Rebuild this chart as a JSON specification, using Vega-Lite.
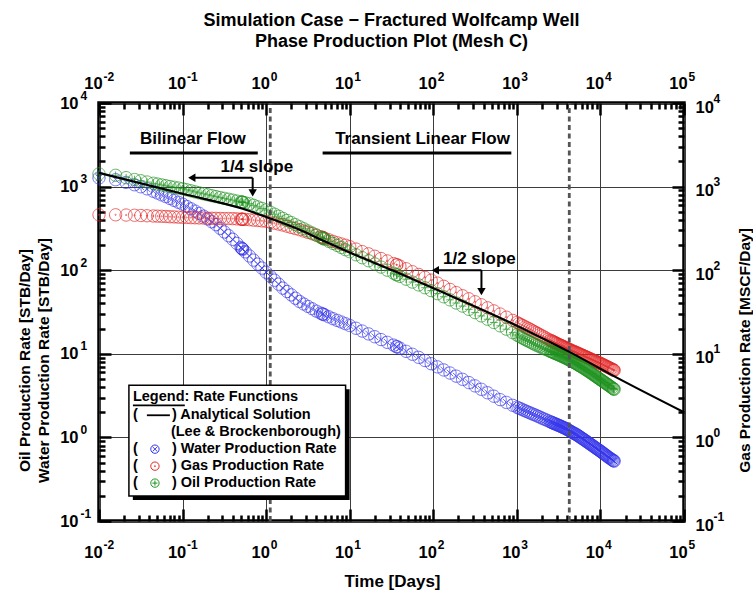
{
  "$schema": "https://vega.github.io/schema/vega-lite/v6.json",
  "width": 585,
  "height": 418,
  "autosize": {"type": "none"},
  "padding": {"left": 99, "top": 103, "right": 69, "bottom": 71},
  "background": "white",
  "view": {"stroke": "black", "strokeWidth": 3.5, "fill": "white"},
  "title": {
    "text": ["Simulation Case − Fractured Wolfcamp Well", "Phase Production Plot (Mesh C)"],
    "font": "Liberation Sans", "fontWeight": "bold", "fontSize": 18, "color": "black",
    "anchor": "middle", "frame": "group", "lineHeight": 21, "offset": 19
  },
  "datasets": {
    "analytic": [
      {"t": 0.01, "q": 1462}, {"t": 0.1, "q": 820}, {"t": 0.525, "q": 543}, {"t": 1.167, "q": 410},
      {"t": 2.51, "q": 305}, {"t": 5, "q": 222}, {"t": 10, "q": 163}, {"t": 36.3, "q": 95},
      {"t": 90.2, "q": 63.7}, {"t": 617, "q": 27.2}, {"t": 1549, "q": 17.5}, {"t": 4365, "q": 10.4},
      {"t": 15490, "q": 5.22}, {"t": 100000, "q": 2.0}
    ],
    "regimes": [{"t": 1.12}, {"t": 4240}],
    "bars": [
      {"t": 0.0234, "t2": 0.794, "q": 2530},
      {"t": 4.74, "t2": 859, "q": 2530}
    ],
    "shafts": [
      {"t": 0.129, "t2": 0.69, "q": 1274, "q2": 1274},
      {"t": 0.69, "t2": 0.69, "q": 1274, "q2": 843},
      {"t": 106, "t2": 377, "q": 100, "q2": 100},
      {"t": 377, "t2": 377, "q": 100, "q2": 55.6}
    ],
    "headsLeft": [{"t": 0.129, "q": 1274}, {"t": 106, "q": 100}],
    "headsDown": [{"t": 0.69, "q": 843}, {"t": 377, "q": 55.6}],
    "notes": [
      {"t": 0.1327, "q": 3715, "label": "Bilinear Flow"},
      {"t": 74.3, "q": 3715, "label": "Transient Linear Flow"},
      {"t": 0.773, "q": 1722, "label": "1/4 slope"},
      {"t": 356, "q": 137, "label": "1/2 slope"}
    ],
    "legendShadow": [{"t": 0.0254, "t2": 9.97, "q": 0.178, "q2": 3.76}],
    "legendBox": [{"t": 0.0228, "t2": 8.93, "q": 0.1986, "q2": 4.2}],
    "legendRules": [
      {"t": 0.02547, "t2": 0.1064, "q": 2.42},
      {"t": 0.0374, "t2": 0.0705, "q": 1.84}
    ],
    "legendText": [
      {"t": 0.02547, "q": 3.02, "label": "Legend: Rate Functions"},
      {"t": 0.02547, "q": 1.84, "label": "("},
      {"t": 0.0745, "q": 1.84, "label": ") Analytical Solution"},
      {"t": 0.0725, "q": 1.153, "label": "(Lee & Brockenborough)"},
      {"t": 0.02547, "q": 0.723, "label": "("},
      {"t": 0.0745, "q": 0.723, "label": ") Water Production Rate"},
      {"t": 0.02547, "q": 0.453, "label": "("},
      {"t": 0.0745, "q": 0.453, "label": ") Gas Production Rate"},
      {"t": 0.02547, "q": 0.284, "label": "("},
      {"t": 0.0745, "q": 0.284, "label": ") Oil Production Rate"}
    ],
    "legendSymbols": [
      {"t": 0.0467, "q": 0.723, "phase": "Water"},
      {"t": 0.0467, "q": 0.453, "phase": "Gas"},
      {"t": 0.0467, "q": 0.284, "phase": "Oil"}
    ]
  },
  "data": {
    "values": [
      {"t": 0.01, "Water": 1270, "Gas": 460, "Oil": 1420},
      {"t": 0.0158, "Water": 1210, "Gas": 460, "Oil": 1365},
      {"t": 0.0211, "Water": 1122, "Gas": 457, "Oil": 1279},
      {"t": 0.0266, "Water": 1052, "Gas": 454, "Oil": 1216},
      {"t": 0.0316, "Water": 995, "Gas": 451, "Oil": 1175},
      {"t": 0.0376, "Water": 940, "Gas": 448, "Oil": 1135},
      {"t": 0.0447, "Water": 879, "Gas": 445, "Oil": 1096},
      {"t": 0.0501, "Water": 837, "Gas": 443, "Oil": 1072},
      {"t": 0.0562, "Water": 796, "Gas": 441, "Oil": 1047},
      {"t": 0.0631, "Water": 759, "Gas": 439, "Oil": 1023},
      {"t": 0.0708, "Water": 720, "Gas": 436, "Oil": 1002},
      {"t": 0.0794, "Water": 684, "Gas": 434, "Oil": 982},
      {"t": 0.0891, "Water": 649, "Gas": 431, "Oil": 962},
      {"t": 0.1, "Water": 617, "Gas": 429, "Oil": 942},
      {"t": 0.112, "Water": 579, "Gas": 427, "Oil": 916},
      {"t": 0.126, "Water": 543, "Gas": 425, "Oil": 890},
      {"t": 0.141, "Water": 510, "Gas": 424, "Oil": 865},
      {"t": 0.158, "Water": 479, "Gas": 422, "Oil": 841},
      {"t": 0.178, "Water": 443, "Gas": 421, "Oil": 820},
      {"t": 0.2, "Water": 410, "Gas": 419, "Oil": 799},
      {"t": 0.224, "Water": 379, "Gas": 418, "Oil": 778},
      {"t": 0.251, "Water": 351, "Gas": 417, "Oil": 759},
      {"t": 0.282, "Water": 317, "Gas": 416, "Oil": 740},
      {"t": 0.316, "Water": 287, "Gas": 415, "Oil": 723},
      {"t": 0.355, "Water": 259, "Gas": 415, "Oil": 706},
      {"t": 0.398, "Water": 234, "Gas": 414, "Oil": 689},
      {"t": 0.447, "Water": 209, "Gas": 411, "Oil": 671},
      {"t": 0.501, "Water": 186, "Gas": 408, "Oil": 655},
      {"t": 0.513, "Water": 182, "Gas": 407, "Oil": 652},
      {"t": 0.519, "Water": 180, "Gas": 407, "Oil": 650},
      {"t": 0.525, "Water": 178, "Gas": 406, "Oil": 649},
      {"t": 0.562, "Water": 166, "Gas": 405, "Oil": 640},
      {"t": 0.631, "Water": 148, "Gas": 402, "Oil": 624},
      {"t": 0.708, "Water": 132, "Gas": 397, "Oil": 597},
      {"t": 0.794, "Water": 118, "Gas": 393, "Oil": 572},
      {"t": 0.891, "Water": 106, "Gas": 389, "Oil": 548},
      {"t": 1, "Water": 94.4, "Gas": 385, "Oil": 525},
      {"t": 1.122, "Water": 84.6, "Gas": 375, "Oil": 495},
      {"t": 1.259, "Water": 75.9, "Gas": 365, "Oil": 468},
      {"t": 1.413, "Water": 68, "Gas": 356, "Oil": 442},
      {"t": 1.585, "Water": 61, "Gas": 347, "Oil": 417},
      {"t": 1.778, "Water": 55.6, "Gas": 336, "Oil": 394},
      {"t": 2, "Water": 50.7, "Gas": 325, "Oil": 372},
      {"t": 2.239, "Water": 46.2, "Gas": 315, "Oil": 351},
      {"t": 2.512, "Water": 42.2, "Gas": 305, "Oil": 331},
      {"t": 2.818, "Water": 39.4, "Gas": 294, "Oil": 313},
      {"t": 3.162, "Water": 36.9, "Gas": 283, "Oil": 295},
      {"t": 3.548, "Water": 34.6, "Gas": 273, "Oil": 279},
      {"t": 3.981, "Water": 32.4, "Gas": 263, "Oil": 263},
      {"t": 4.467, "Water": 30.7, "Gas": 252, "Oil": 248},
      {"t": 4.732, "Water": 29.9, "Gas": 247, "Oil": 241},
      {"t": 4.786, "Water": 29.8, "Gas": 245, "Oil": 240},
      {"t": 5.012, "Water": 29.2, "Gas": 241, "Oil": 234},
      {"t": 5.623, "Water": 27.7, "Gas": 231, "Oil": 221},
      {"t": 6.31, "Water": 26.3, "Gas": 221, "Oil": 209},
      {"t": 7.079, "Water": 25.1, "Gas": 213, "Oil": 198},
      {"t": 7.943, "Water": 24, "Gas": 206, "Oil": 187},
      {"t": 8.913, "Water": 22.9, "Gas": 199, "Oil": 176},
      {"t": 10, "Water": 21.8, "Gas": 191, "Oil": 167},
      {"t": 11.89, "Water": 20.2, "Gas": 179, "Oil": 153},
      {"t": 14.13, "Water": 18.7, "Gas": 167, "Oil": 141},
      {"t": 16.79, "Water": 17.3, "Gas": 157, "Oil": 130},
      {"t": 19.95, "Water": 16, "Gas": 147, "Oil": 119},
      {"t": 23.71, "Water": 14.8, "Gas": 138, "Oil": 109},
      {"t": 28.18, "Water": 13.7, "Gas": 129, "Oil": 100},
      {"t": 33.5, "Water": 12.7, "Gas": 120, "Oil": 92},
      {"t": 36.31, "Water": 12.2, "Gas": 116, "Oil": 88.4},
      {"t": 36.73, "Water": 12.1, "Gas": 116, "Oil": 87.9},
      {"t": 39.81, "Water": 11.7, "Gas": 112, "Oil": 84.5},
      {"t": 47.32, "Water": 10.7, "Gas": 104, "Oil": 78.1},
      {"t": 56.23, "Water": 9.87, "Gas": 96, "Oil": 72.1},
      {"t": 66.83, "Water": 9.06, "Gas": 88.9, "Oil": 66.7},
      {"t": 79.43, "Water": 8.31, "Gas": 82.2, "Oil": 61.7},
      {"t": 94.41, "Water": 7.61, "Gas": 76, "Oil": 57},
      {"t": 112.2, "Water": 6.98, "Gas": 70, "Oil": 52.5},
      {"t": 133.4, "Water": 6.41, "Gas": 64.2, "Oil": 48.1},
      {"t": 158.5, "Water": 5.89, "Gas": 58.9, "Oil": 44.2},
      {"t": 188.4, "Water": 5.4, "Gas": 54, "Oil": 40.5},
      {"t": 223.9, "Water": 4.95, "Gas": 49.5, "Oil": 37.2},
      {"t": 266.1, "Water": 4.53, "Gas": 45.5, "Oil": 34},
      {"t": 316.2, "Water": 4.13, "Gas": 41.9, "Oil": 31.1},
      {"t": 375.8, "Water": 3.76, "Gas": 38.6, "Oil": 28.4},
      {"t": 446.7, "Water": 3.42, "Gas": 35.5, "Oil": 25.9},
      {"t": 530.9, "Water": 3.11, "Gas": 32.6, "Oil": 23.7},
      {"t": 631, "Water": 2.83, "Gas": 29.9, "Oil": 21.6},
      {"t": 749.9, "Water": 2.62, "Gas": 27.4, "Oil": 19.7},
      {"t": 891.3, "Water": 2.42, "Gas": 25.1, "Oil": 17.9},
      {"t": 1000, "Water": 2.3, "Gas": 23.7, "Oil": 16.8},
      {"t": 1059, "Water": 2.24, "Gas": 23, "Oil": 16.3},
      {"t": 1122, "Water": 2.19, "Gas": 22.3, "Oil": 15.8},
      {"t": 1189, "Water": 2.13, "Gas": 21.7, "Oil": 15.3},
      {"t": 1259, "Water": 2.08, "Gas": 21, "Oil": 14.8},
      {"t": 1334, "Water": 2.03, "Gas": 20.4, "Oil": 14.4},
      {"t": 1413, "Water": 1.98, "Gas": 19.8, "Oil": 14},
      {"t": 1496, "Water": 1.93, "Gas": 19.2, "Oil": 13.6},
      {"t": 1585, "Water": 1.88, "Gas": 18.6, "Oil": 13.2},
      {"t": 1679, "Water": 1.84, "Gas": 18, "Oil": 12.8},
      {"t": 1778, "Water": 1.79, "Gas": 17.5, "Oil": 12.5},
      {"t": 1884, "Water": 1.75, "Gas": 16.9, "Oil": 12.2},
      {"t": 1995, "Water": 1.7, "Gas": 16.4, "Oil": 11.8},
      {"t": 2113, "Water": 1.66, "Gas": 15.9, "Oil": 11.5},
      {"t": 2239, "Water": 1.62, "Gas": 15.4, "Oil": 11.3},
      {"t": 2371, "Water": 1.58, "Gas": 14.9, "Oil": 11},
      {"t": 2512, "Water": 1.54, "Gas": 14.5, "Oil": 10.7},
      {"t": 2585, "Water": 1.52, "Gas": 14.3, "Oil": 10.6},
      {"t": 2661, "Water": 1.5, "Gas": 14.1, "Oil": 10.5},
      {"t": 2738, "Water": 1.48, "Gas": 13.9, "Oil": 10.35},
      {"t": 2818, "Water": 1.46, "Gas": 13.7, "Oil": 10.2},
      {"t": 2901, "Water": 1.445, "Gas": 13.5, "Oil": 10.1},
      {"t": 2985, "Water": 1.43, "Gas": 13.3, "Oil": 9.97},
      {"t": 3072, "Water": 1.41, "Gas": 13.1, "Oil": 9.85},
      {"t": 3162, "Water": 1.39, "Gas": 12.9, "Oil": 9.72},
      {"t": 3255, "Water": 1.375, "Gas": 12.75, "Oil": 9.6},
      {"t": 3350, "Water": 1.36, "Gas": 12.6, "Oil": 9.47},
      {"t": 3447, "Water": 1.34, "Gas": 12.45, "Oil": 9.35},
      {"t": 3548, "Water": 1.32, "Gas": 12.3, "Oil": 9.23},
      {"t": 3652, "Water": 1.305, "Gas": 12.1, "Oil": 9.11},
      {"t": 3758, "Water": 1.29, "Gas": 11.9, "Oil": 8.99},
      {"t": 3868, "Water": 1.27, "Gas": 11.75, "Oil": 8.87},
      {"t": 3981, "Water": 1.25, "Gas": 11.6, "Oil": 8.75},
      {"t": 4097, "Water": 1.23, "Gas": 11.45, "Oil": 8.61},
      {"t": 4217, "Water": 1.21, "Gas": 11.3, "Oil": 8.48},
      {"t": 4340, "Water": 1.19, "Gas": 11.15, "Oil": 8.35},
      {"t": 4467, "Water": 1.17, "Gas": 11, "Oil": 8.22},
      {"t": 4598, "Water": 1.15, "Gas": 10.85, "Oil": 8.1},
      {"t": 4732, "Water": 1.13, "Gas": 10.7, "Oil": 7.97},
      {"t": 4870, "Water": 1.115, "Gas": 10.6, "Oil": 7.85},
      {"t": 5012, "Water": 1.1, "Gas": 10.5, "Oil": 7.73},
      {"t": 5158, "Water": 1.08, "Gas": 10.35, "Oil": 7.6},
      {"t": 5309, "Water": 1.06, "Gas": 10.2, "Oil": 7.46},
      {"t": 5464, "Water": 1.04, "Gas": 10.07, "Oil": 7.33},
      {"t": 5623, "Water": 1.02, "Gas": 9.94, "Oil": 7.21},
      {"t": 5788, "Water": 1.0, "Gas": 9.81, "Oil": 7.09},
      {"t": 5957, "Water": 0.98, "Gas": 9.68, "Oil": 6.97},
      {"t": 6131, "Water": 0.962, "Gas": 9.56, "Oil": 6.85},
      {"t": 6310, "Water": 0.944, "Gas": 9.44, "Oil": 6.73},
      {"t": 6494, "Water": 0.925, "Gas": 9.32, "Oil": 6.6},
      {"t": 6683, "Water": 0.907, "Gas": 9.2, "Oil": 6.48},
      {"t": 6878, "Water": 0.889, "Gas": 9.08, "Oil": 6.36},
      {"t": 7079, "Water": 0.871, "Gas": 8.97, "Oil": 6.24},
      {"t": 7286, "Water": 0.854, "Gas": 8.85, "Oil": 6.12},
      {"t": 7499, "Water": 0.837, "Gas": 8.73, "Oil": 6.01},
      {"t": 7718, "Water": 0.82, "Gas": 8.62, "Oil": 5.89},
      {"t": 7943, "Water": 0.804, "Gas": 8.51, "Oil": 5.78},
      {"t": 8175, "Water": 0.788, "Gas": 8.4, "Oil": 5.66},
      {"t": 8414, "Water": 0.772, "Gas": 8.29, "Oil": 5.55},
      {"t": 8660, "Water": 0.756, "Gas": 8.18, "Oil": 5.44},
      {"t": 8913, "Water": 0.741, "Gas": 8.08, "Oil": 5.33},
      {"t": 9173, "Water": 0.726, "Gas": 7.97, "Oil": 5.22},
      {"t": 9441, "Water": 0.712, "Gas": 7.87, "Oil": 5.12},
      {"t": 9716, "Water": 0.698, "Gas": 7.77, "Oil": 5.02},
      {"t": 10000, "Water": 0.684, "Gas": 7.67, "Oil": 4.92},
      {"t": 10290, "Water": 0.669, "Gas": 7.56, "Oil": 4.82},
      {"t": 10590, "Water": 0.655, "Gas": 7.46, "Oil": 4.73},
      {"t": 10900, "Water": 0.641, "Gas": 7.35, "Oil": 4.63},
      {"t": 11220, "Water": 0.627, "Gas": 7.24, "Oil": 4.54},
      {"t": 11550, "Water": 0.614, "Gas": 7.14, "Oil": 4.45},
      {"t": 11890, "Water": 0.601, "Gas": 7.04, "Oil": 4.36},
      {"t": 12230, "Water": 0.588, "Gas": 6.94, "Oil": 4.27},
      {"t": 12590, "Water": 0.575, "Gas": 6.84, "Oil": 4.19},
      {"t": 12960, "Water": 0.564, "Gas": 6.74, "Oil": 4.1},
      {"t": 13340, "Water": 0.553, "Gas": 6.64, "Oil": 4.02},
      {"t": 13730, "Water": 0.542, "Gas": 6.54, "Oil": 3.93},
      {"t": 14130, "Water": 0.532, "Gas": 6.44, "Oil": 3.85},
      {"t": 14370, "Water": 0.526, "Gas": 6.39, "Oil": 3.8},
      {"t": 14620, "Water": 0.52, "Gas": 6.34, "Oil": 3.76}
    ]
  },
  "layer": [
    {
      "mark": {"type": "point", "filled": false, "color": "#3434ec", "strokeWidth": 1, "size": 150,
               "shape": "M1,0A1,1,0,1,1,-1,0A1,1,0,1,1,1,0ZM-0.55,-0.55L0.55,0.55M-0.55,0.55L0.55,-0.55"},
      "encoding": {
        "x": {"field": "t", "type": "quantitative", "scale": {"type": "log", "domain": [0.01, 100000], "nice": false},
              "axis": {"orient": "bottom", "values": [0.01,0.02,0.03,0.04,0.05,0.06,0.07,0.08,0.09,0.1,0.2,0.3,0.4,0.5,0.6,0.7,0.8,0.9,1,2,3,4,5,6,7,8,9,10,20,30,40,50,60,70,80,90,100,200,300,400,500,600,700,800,900,1000,2000,3000,4000,5000,6000,7000,8000,9000,10000,20000,30000,40000,50000,60000,70000,80000,90000,100000],
                       "labels": false, "domain": false, "ticks": true, "tickColor": "black", "tickWidth": 2.5,
                       "tickSize": {"condition": {"test": "abs(log(datum.value)/LN10 - round(log(datum.value)/LN10)) < 0.001", "value": -12}, "value": -6},
                       "grid": true, "gridColor": "#3c3c3c", "gridWidth": 1,
                       "gridOpacity": {"condition": {"test": "abs(log(datum.value)/LN10 - round(log(datum.value)/LN10)) < 0.001", "value": 1}, "value": 0},
                       "title": null}},
        "y": {"field": "Water", "type": "quantitative", "scale": {"type": "log", "domain": [0.1, 10000], "nice": false},
              "axis": {"orient": "left", "values": [0.1,0.2,0.3,0.4,0.5,0.6,0.7,0.8,0.9,1,2,3,4,5,6,7,8,9,10,20,30,40,50,60,70,80,90,100,200,300,400,500,600,700,800,900,1000,2000,3000,4000,5000,6000,7000,8000,9000,10000],
                       "labels": false, "domain": false, "ticks": true, "tickColor": "black", "tickWidth": 2.5,
                       "tickSize": {"condition": {"test": "abs(log(datum.value)/LN10 - round(log(datum.value)/LN10)) < 0.001", "value": -12}, "value": -6},
                       "grid": true, "gridColor": "#3c3c3c", "gridWidth": 1,
                       "gridOpacity": {"condition": {"test": "abs(log(datum.value)/LN10 - round(log(datum.value)/LN10)) < 0.001", "value": 1}, "value": 0},
                       "title": null}}
      }
    },
    {
      "mark": {"type": "point", "filled": false, "color": "#e42424", "strokeWidth": 1, "size": 150,
               "shape": "M1,0A1,1,0,1,1,-1,0A1,1,0,1,1,1,0ZM0.1,0A0.1,0.1,0,1,1,-0.1,0A0.1,0.1,0,1,1,0.1,0Z"},
      "encoding": {
        "x": {"field": "t", "type": "quantitative", "scale": {"type": "log", "domain": [0.01, 100000], "nice": false},
              "axis": {"orient": "top", "values": [0.01,0.02,0.03,0.04,0.05,0.06,0.07,0.08,0.09,0.1,0.2,0.3,0.4,0.5,0.6,0.7,0.8,0.9,1,2,3,4,5,6,7,8,9,10,20,30,40,50,60,70,80,90,100,200,300,400,500,600,700,800,900,1000,2000,3000,4000,5000,6000,7000,8000,9000,10000,20000,30000,40000,50000,60000,70000,80000,90000,100000],
                       "labels": false, "domain": false, "ticks": true, "tickColor": "black", "tickWidth": 2.5,
                       "tickSize": {"condition": {"test": "abs(log(datum.value)/LN10 - round(log(datum.value)/LN10)) < 0.001", "value": -12}, "value": -6},
                       "grid": false, "title": null}},
        "y": {"field": "Gas", "type": "quantitative", "scale": {"type": "log", "domain": [0.1, 10000], "nice": false},
              "axis": {"orient": "right", "values": [0.1,0.2,0.3,0.4,0.5,0.6,0.7,0.8,0.9,1,2,3,4,5,6,7,8,9,10,20,30,40,50,60,70,80,90,100,200,300,400,500,600,700,800,900,1000,2000,3000,4000,5000,6000,7000,8000,9000,10000],
                       "labels": false, "domain": false, "ticks": true, "tickColor": "black", "tickWidth": 2.5,
                       "tickSize": {"condition": {"test": "abs(log(datum.value)/LN10 - round(log(datum.value)/LN10)) < 0.001", "value": -12}, "value": -6},
                       "grid": false, "title": null}}
      }
    },
    {
      "mark": {"type": "point", "filled": false, "color": "#1e931e", "strokeWidth": 1, "size": 150,
               "shape": "M1,0A1,1,0,1,1,-1,0A1,1,0,1,1,1,0ZM-0.62,0L0.62,0M0,-0.62L0,0.62"},
      "encoding": {
        "x": {"field": "t", "type": "quantitative", "scale": {"type": "log", "domain": [0.01, 100000], "nice": false},
              "axis": {"orient": "bottom", "values": [0.01,0.1,1,10,100,1000,10000,100000],
                       "ticks": false, "domain": false, "grid": false, "labelExpr": "'10'",
                       "labelFont": "Liberation Sans", "labelFontWeight": "bold", "labelFontSize": 16.5, "labelColor": "black",
                       "labelAlign": "center", "labelBaseline": "alphabetic", "labelPadding": 36, "labelOffset": -6,
                       "labelFlush": false, "labelOverlap": false, "labelBound": false,
                       "title": "Time [Days]", "titleFont": "Liberation Sans", "titleFontWeight": "bold", "titleFontSize": 17,
                       "titleColor": "black", "titleBaseline": "alphabetic", "titleAlign": "center", "titleX": 293, "titleY": 65}},
        "y": {"field": "Oil", "type": "quantitative", "scale": {"type": "log", "domain": [0.1, 10000], "nice": false},
              "axis": {"orient": "left", "values": [0.1,1,10,100,1000,10000],
                       "ticks": false, "domain": false, "grid": false, "labelExpr": "'10'",
                       "labelFont": "Liberation Sans", "labelFontWeight": "bold", "labelFontSize": 16.5, "labelColor": "black",
                       "labelAlign": "right", "labelBaseline": "middle", "labelPadding": 21, "labelOffset": 0,
                       "labelFlush": false, "labelOverlap": false, "labelBound": false,
                       "title": "Water Production Rate [STB/Day]", "titleFont": "Liberation Sans Narrow, Liberation Sans", "titleFontWeight": "bold",
                       "titleFontSize": 15.5, "titleColor": "black", "titleAngle": -90, "titleAlign": "center",
                       "titleBaseline": "middle", "titleX": -56, "titleY": 257}}
      }
    },
    {
      "data": {"name": "regimes"},
      "mark": {"type": "rule", "color": "#555555", "strokeWidth": 2.8, "strokeDash": [5, 3.5]},
      "encoding": {
        "x": {"field": "t", "type": "quantitative", "scale": {"type": "log", "domain": [0.01, 100000], "nice": false},
              "axis": {"orient": "top", "values": [0.01,0.1,1,10,100,1000,10000,100000],
                       "ticks": false, "domain": false, "grid": false, "labelExpr": "'10'",
                       "labelFont": "Liberation Sans", "labelFontWeight": "bold", "labelFontSize": 16.5, "labelColor": "black",
                       "labelAlign": "center", "labelBaseline": "alphabetic", "labelPadding": 15, "labelOffset": -6,
                       "labelFlush": false, "labelOverlap": false, "labelBound": false, "title": null}},
        "y": {"datum": 0.1, "type": "quantitative", "scale": {"type": "log", "domain": [0.1, 10000], "nice": false},
              "axis": {"orient": "right", "values": [0.1,1,10,100,1000,10000],
                       "ticks": false, "domain": false, "grid": false, "labelExpr": "'10'",
                       "labelFont": "Liberation Sans", "labelFontWeight": "bold", "labelFontSize": 16.5, "labelColor": "black",
                       "labelAlign": "left", "labelBaseline": "middle", "labelPadding": 11, "labelOffset": 4,
                       "labelFlush": false, "labelOverlap": false, "labelBound": false,
                       "title": "Gas Production Rate [MSCF/Day]", "titleFont": "Liberation Sans Narrow, Liberation Sans", "titleFontWeight": "bold",
                       "titleFontSize": 15.5, "titleColor": "black", "titleAngle": -90, "titleAlign": "center",
                       "titleBaseline": "middle", "titleX": 60, "titleY": 247}},
        "y2": {"datum": 10000}
      }
    },
    {
      "data": {"name": "analytic"},
      "mark": {"type": "line", "color": "black", "strokeWidth": 2.2, "interpolate": "monotone"},
      "encoding": {
        "x": {"field": "t", "type": "quantitative", "scale": {"type": "log", "domain": [0.01, 100000], "nice": false},
              "axis": {"orient": "bottom", "values": [0.01,0.1,1,10,100,1000,10000,100000],
                       "ticks": false, "domain": false, "grid": false,
                       "labelExpr": "'' + round(log(datum.value)/LN10)",
                       "labelFont": "Liberation Sans", "labelFontWeight": "bold", "labelFontSize": 12, "labelColor": "black",
                       "labelAlign": "left", "labelBaseline": "alphabetic", "labelPadding": 27, "labelOffset": 4,
                       "labelFlush": false, "labelOverlap": false, "labelBound": false, "title": null}},
        "y": {"field": "q", "type": "quantitative", "scale": {"type": "log", "domain": [0.1, 10000], "nice": false},
              "axis": {"orient": "left", "values": [0.1,1,10,100,1000,10000],
                       "ticks": false, "domain": false, "grid": false,
                       "labelExpr": "'' + round(log(datum.value)/LN10)",
                       "labelFont": "Liberation Sans", "labelFontWeight": "bold", "labelFontSize": 12, "labelColor": "black",
                       "labelAlign": "left", "labelBaseline": "middle", "labelPadding": 19, "labelOffset": -8,
                       "labelFlush": false, "labelOverlap": false, "labelBound": false,
                       "title": "Oil Production Rate [STB/Day]", "titleFont": "Liberation Sans Narrow, Liberation Sans", "titleFontWeight": "bold",
                       "titleFontSize": 15.5, "titleColor": "black", "titleAngle": -90, "titleAlign": "center",
                       "titleBaseline": "middle", "titleX": -75, "titleY": 257}}
      }
    },
    {
      "data": {"name": "bars"},
      "mark": {"type": "rule", "color": "black", "strokeWidth": 3},
      "encoding": {
        "x": {"field": "t", "type": "quantitative", "scale": {"type": "log", "domain": [0.01, 100000], "nice": false}, "axis": null},
        "x2": {"field": "t2"},
        "y": {"field": "q", "type": "quantitative", "scale": {"type": "log", "domain": [0.1, 10000], "nice": false}, "axis": null}
      }
    },
    {
      "data": {"name": "shafts"},
      "mark": {"type": "rule", "color": "black", "strokeWidth": 2},
      "encoding": {
        "x": {"field": "t", "type": "quantitative", "scale": {"type": "log", "domain": [0.01, 100000], "nice": false}, "axis": null},
        "x2": {"field": "t2"},
        "y": {"field": "q", "type": "quantitative", "scale": {"type": "log", "domain": [0.1, 10000], "nice": false}, "axis": null},
        "y2": {"field": "q2"}
      }
    },
    {
      "data": {"name": "headsLeft"},
      "mark": {"type": "point", "shape": "triangle-left", "filled": true, "color": "black", "size": 70, "opacity": 1},
      "encoding": {
        "x": {"field": "t", "type": "quantitative", "scale": {"type": "log", "domain": [0.01, 100000], "nice": false}, "axis": null},
        "y": {"field": "q", "type": "quantitative", "scale": {"type": "log", "domain": [0.1, 10000], "nice": false}, "axis": null}
      }
    },
    {
      "data": {"name": "headsDown"},
      "mark": {"type": "point", "shape": "triangle-down", "filled": true, "color": "black", "size": 70, "opacity": 1},
      "encoding": {
        "x": {"field": "t", "type": "quantitative", "scale": {"type": "log", "domain": [0.01, 100000], "nice": false}, "axis": null},
        "y": {"field": "q", "type": "quantitative", "scale": {"type": "log", "domain": [0.1, 10000], "nice": false}, "axis": null}
      }
    },
    {
      "data": {"name": "notes"},
      "mark": {"type": "text", "font": "Liberation Sans", "fontWeight": "bold", "fontSize": 17, "color": "black",
               "align": "center", "baseline": "middle"},
      "encoding": {
        "x": {"field": "t", "type": "quantitative", "scale": {"type": "log", "domain": [0.01, 100000], "nice": false},
              "axis": {"orient": "top", "values": [0.01,0.1,1,10,100,1000,10000,100000],
                       "ticks": false, "domain": false, "grid": false,
                       "labelExpr": "'' + round(log(datum.value)/LN10)",
                       "labelFont": "Liberation Sans", "labelFontWeight": "bold", "labelFontSize": 12, "labelColor": "black",
                       "labelAlign": "left", "labelBaseline": "alphabetic", "labelPadding": 23, "labelOffset": 4,
                       "labelFlush": false, "labelOverlap": false, "labelBound": false, "title": null}},
        "y": {"field": "q", "type": "quantitative", "scale": {"type": "log", "domain": [0.1, 10000], "nice": false},
              "axis": {"orient": "right", "values": [0.1,1,10,100,1000,10000],
                       "ticks": false, "domain": false, "grid": false,
                       "labelExpr": "'' + round(log(datum.value)/LN10)",
                       "labelFont": "Liberation Sans", "labelFontWeight": "bold", "labelFontSize": 12, "labelColor": "black",
                       "labelAlign": "left", "labelBaseline": "middle", "labelPadding": 29, "labelOffset": -5,
                       "labelFlush": false, "labelOverlap": false, "labelBound": false, "title": null}},
        "text": {"field": "label"}
      }
    },
    {
      "data": {"name": "legendShadow"},
      "mark": {"type": "rect", "color": "black"},
      "encoding": {
        "x": {"field": "t", "type": "quantitative", "scale": {"type": "log", "domain": [0.01, 100000], "nice": false}, "axis": null},
        "x2": {"field": "t2"},
        "y": {"field": "q", "type": "quantitative", "scale": {"type": "log", "domain": [0.1, 10000], "nice": false}, "axis": null},
        "y2": {"field": "q2"}
      }
    },
    {
      "data": {"name": "legendBox"},
      "mark": {"type": "rect", "fill": "white", "stroke": "black", "strokeWidth": 1.5},
      "encoding": {
        "x": {"field": "t", "type": "quantitative", "scale": {"type": "log", "domain": [0.01, 100000], "nice": false}, "axis": null},
        "x2": {"field": "t2"},
        "y": {"field": "q", "type": "quantitative", "scale": {"type": "log", "domain": [0.1, 10000], "nice": false}, "axis": null},
        "y2": {"field": "q2"}
      }
    },
    {
      "data": {"name": "legendRules"},
      "mark": {"type": "rule", "color": "black", "strokeWidth": 1.8},
      "encoding": {
        "x": {"field": "t", "type": "quantitative", "scale": {"type": "log", "domain": [0.01, 100000], "nice": false}, "axis": null},
        "x2": {"field": "t2"},
        "y": {"field": "q", "type": "quantitative", "scale": {"type": "log", "domain": [0.1, 10000], "nice": false}, "axis": null}
      }
    },
    {
      "data": {"name": "legendText"},
      "mark": {"type": "text", "font": "Liberation Sans", "fontWeight": "bold", "fontSize": 14.5, "color": "black",
               "align": "left", "baseline": "middle"},
      "encoding": {
        "x": {"field": "t", "type": "quantitative", "scale": {"type": "log", "domain": [0.01, 100000], "nice": false}, "axis": null},
        "y": {"field": "q", "type": "quantitative", "scale": {"type": "log", "domain": [0.1, 10000], "nice": false}, "axis": null},
        "text": {"field": "label"}
      }
    },
    {
      "data": {"name": "legendSymbols"},
      "mark": {"type": "point", "filled": false, "strokeWidth": 1, "size": 70, "opacity": 1},
      "encoding": {
        "x": {"field": "t", "type": "quantitative", "scale": {"type": "log", "domain": [0.01, 100000], "nice": false}, "axis": null},
        "y": {"field": "q", "type": "quantitative", "scale": {"type": "log", "domain": [0.1, 10000], "nice": false}, "axis": null},
        "shape": {"field": "phase", "type": "nominal", "legend": null,
                  "scale": {"domain": ["Water", "Gas", "Oil"],
                            "range": ["M1,0A1,1,0,1,1,-1,0A1,1,0,1,1,1,0ZM-0.55,-0.55L0.55,0.55M-0.55,0.55L0.55,-0.55",
                                      "M1,0A1,1,0,1,1,-1,0A1,1,0,1,1,1,0ZM0.12,0A0.12,0.12,0,1,1,-0.12,0A0.12,0.12,0,1,1,0.12,0Z",
                                      "M1,0A1,1,0,1,1,-1,0A1,1,0,1,1,1,0ZM-0.62,0L0.62,0M0,-0.62L0,0.62"]}},
        "color": {"field": "phase", "type": "nominal", "legend": null,
                  "scale": {"domain": ["Water", "Gas", "Oil"], "range": ["#3434ec", "#e42424", "#1e931e"]}}
      }
    }
  ],
  "resolve": {"axis": {"x": "independent", "y": "independent"}}
}
